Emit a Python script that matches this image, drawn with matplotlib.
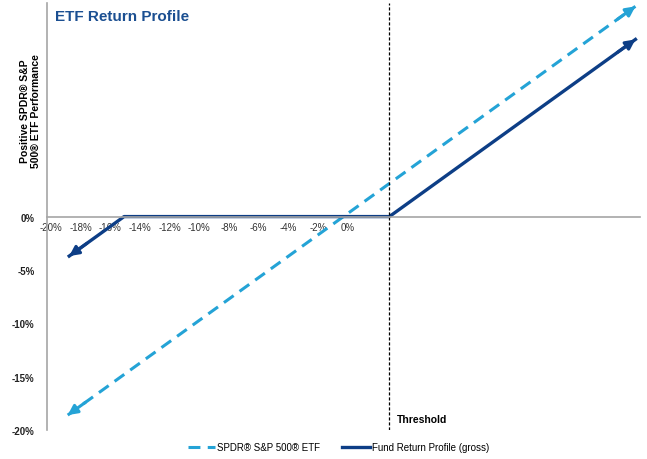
import matplotlib
matplotlib.use("Agg")
import matplotlib.pyplot as plt
import matplotlib.transforms as mtransforms

plt.rcParams["font.family"] = ["Liberation Sans", "DejaVu Sans"]

# payoff data (percent)
etf_x = [-18.6, 19.7]
etf_y = [-18.6, 19.7]
fund_x = [-18.5, -14.8, 3.1, 19.7]
fund_y = [-3.7, 0.0, 0.0, 16.6]
threshold = 3.1

x_ticks = [-20, -18, -16, -14, -12, -10, -8, -6, -4, -2, 0]
y_ticks = [-20, -15, -10, -5, 0]

light_blue = "#24a3d6"
dark_blue = "#0d3e86"

fig = plt.figure(figsize=(6.47, 4.60), dpi=100)
ax = fig.add_axes([0.0726, 0.063, 0.9164, 0.928])

ax.plot(etf_x, etf_y, color=light_blue, lw=2.2, dashes=(3.9, 2.4),
        label="SPDR® S&P 500® ETF", solid_capstyle="butt")
ax.plot(fund_x, fund_y, color=dark_blue, lw=2.4, label="Fund Return Profile (gross)")

# arrow heads at both ends of the ETF line and the fund line
def head(x0, y0, x1, y1, c):
    ax.annotate("", xy=(x1, y1), xytext=(x0, y0),
                arrowprops=dict(arrowstyle="-|>", color=c, lw=2.2,
                                mutation_scale=14, shrinkA=0, shrinkB=0))

head(etf_x[0] + 1.2, etf_y[0] + 1.2, etf_x[0], etf_y[0], light_blue)
head(etf_x[1] - 1.2, etf_y[1] - 1.2, etf_x[1], etf_y[1], light_blue)
head(fund_x[0] + 1.2, fund_y[0] + 1.2, fund_x[0], fund_y[0], dark_blue)
head(fund_x[-1] - 1.2, fund_y[-1] - 1.2, fund_x[-1], fund_y[-1], dark_blue)

ax.axvline(threshold, color="black", lw=0.9, dashes=(2.5, 1.5))
ax.text(threshold + 0.5, -19.0, "Threshold", fontsize=7.5, fontweight="bold", va="center")

ax.set_xlim(-20, 20)
ax.set_ylim(-20, 20)
ax.spines["top"].set_visible(False)
ax.spines["right"].set_visible(False)
ax.spines["bottom"].set_position(("data", 0))
ax.spines["bottom"].set_color("#a6a6a6")
ax.spines["left"].set_color("#a6a6a6")
ax.spines["bottom"].set_linewidth(1.2)
ax.spines["left"].set_linewidth(1.2)

ax.set_xticks(x_ticks)
ax.set_xticklabels([f"{t}%" for t in x_ticks])
ax.set_yticks(y_ticks)
ax.set_yticklabels([f"{t}%" for t in y_ticks])
ax.tick_params(axis="x", length=0, pad=4, labelsize=7, colors="#333333")
ax.tick_params(axis="y", length=0, pad=9, labelsize=7, colors="#222222")
shift = mtransforms.ScaledTranslation(4 / 100, 0, fig.dpi_scale_trans)
for lab in ax.get_xticklabels():
    lab.set_transform(lab.get_transform() + shift)
for lab in ax.get_yticklabels():
    lab.set_fontweight("bold")

ax.text(-0.028, 0.75, "Positive SPDR® S&P\n500® ETF Performance", transform=ax.transAxes,
        rotation=90, ha="center", va="center", fontsize=7.5, fontweight="bold")

fig.text(55 / 647, 1 - 17 / 460, "ETF Return Profile", fontsize=11, fontweight="bold",
         color="#1b4f91", va="center")

fig.legend(loc="center", bbox_to_anchor=(0.523, 0.025), ncol=2, frameon=False,
           fontsize=7, handlelength=2.8, handletextpad=0.2, columnspacing=2.3)

fig.savefig("out.png", dpi=100)
